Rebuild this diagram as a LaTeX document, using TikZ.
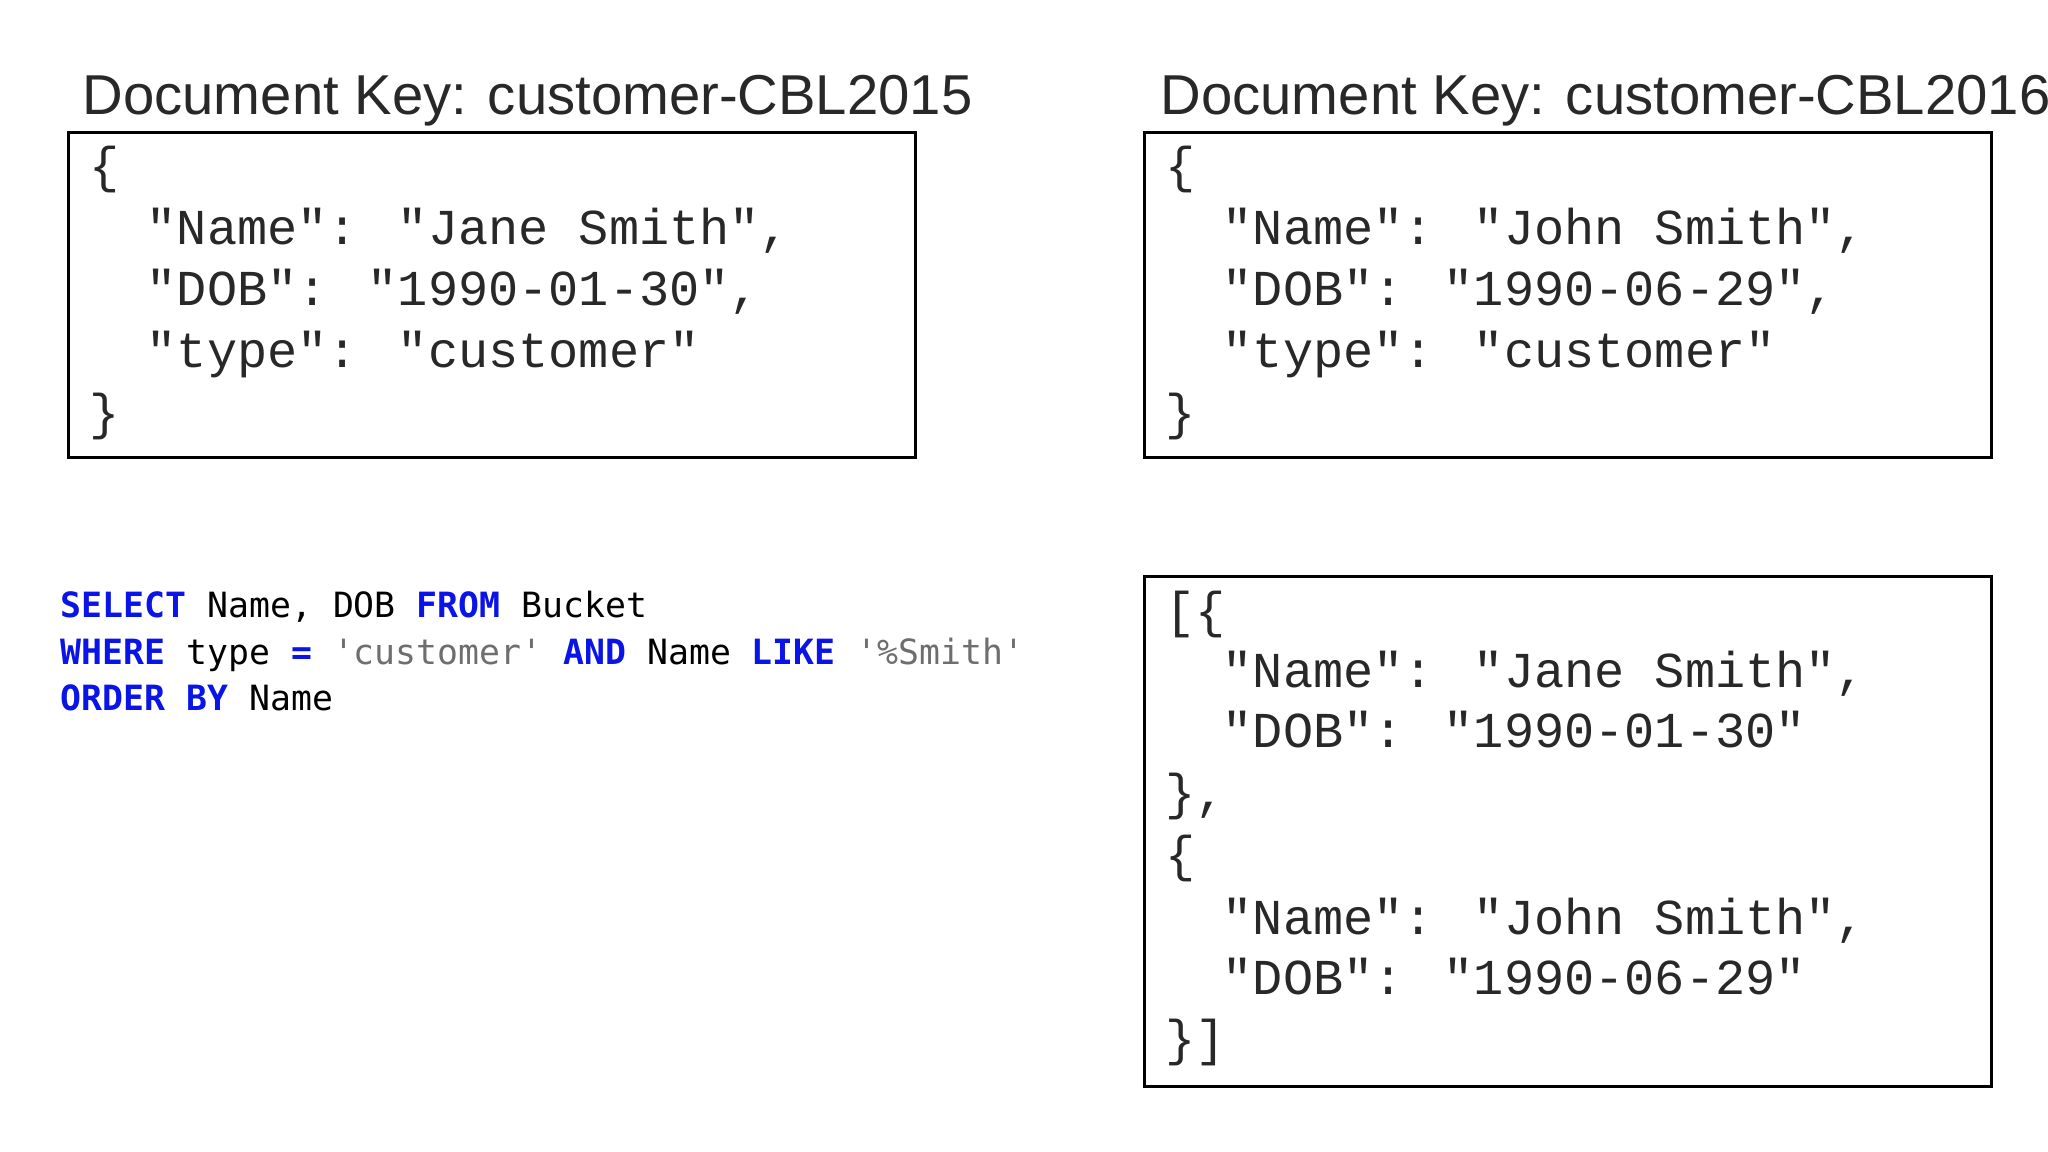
\documentclass[tikz,border=0pt]{standalone}
\usepackage{fontspec}
\setmainfont{Liberation Sans}
\newfontfamily\codefont{Liberation Mono}
\newfontfamily\sqlfont{DejaVu Sans Mono}
\usetikzlibrary{positioning}
\definecolor{kwblue}{RGB}{10,20,230}
\definecolor{strgray}{RGB}{110,110,110}
\definecolor{titlegray}{RGB}{40,40,40}
\newcommand{\kw}[1]{\textbf{\color{kwblue}#1}}
\newcommand{\str}[1]{{\color{strgray}#1}}
\begin{document}
\begin{tikzpicture}[x=1cm,y=-1cm]
  \tikzset{docbox/.style={draw, line width=0.8pt, inner sep=0pt, anchor=north west},
           title/.style={anchor=base west, inner sep=0pt, text=titlegray, font=\fontsize{16}{19}\selectfont},
           codeline/.style={anchor=base west, inner sep=0pt, text=titlegray, font=\codefont\fontsize{14.3}{17}\selectfont},
           sqlline/.style={anchor=base west, inner sep=0pt, font=\sqlfont\fontsize{9.9}{13}\selectfont}}
  \useasboundingbox (0,0) rectangle (20.48,11.52);
  \clip (0,0) rectangle (20.48,11.52);
%% Titles
  \node[title] (t1) at (0.82,1.15) {Document Key: customer-CBL2015};
  \node[title] (t2) at (11.60,1.15) {Document Key: customer-CBL2016};
%% Boxes
  \node[docbox, minimum width=8.47cm, minimum height=3.25cm] (b1) at (0.67,1.31) {};
  \node[docbox, minimum width=8.47cm, minimum height=3.25cm] (b2) at (11.43,1.31) {};
  \node[docbox, minimum width=8.47cm, minimum height=5.10cm] (b3) at (11.43,5.75) {};
%% Document 1
  \node[codeline] (a0) at (0.89,1.83) {\{};
  \node[codeline] (a1) at (1.46,2.45) {"Name": "Jane Smith",};
  \node[codeline] (a2) at (1.46,3.06) {"DOB": "1990-01-30",};
  \node[codeline] (a3) at (1.46,3.68) {"type": "customer"};
  \node[codeline] (a4) at (0.89,4.30) {\}};
%% Document 2
  \node[codeline] (c0) at (11.65,1.83) {\{};
  \node[codeline] (c1) at (12.22,2.45) {"Name": "John Smith",};
  \node[codeline] (c2) at (12.22,3.06) {"DOB": "1990-06-29",};
  \node[codeline] (c3) at (12.22,3.68) {"type": "customer"};
  \node[codeline] (c4) at (11.65,4.30) {\}};
%% Result
  \node[codeline] (r0) at (11.65,6.27) {[\{};
  \node[codeline] (r1) at (12.22,6.88) {"Name": "Jane Smith",};
  \node[codeline] (r2) at (12.22,7.48) {"DOB": "1990-01-30"};
  \node[codeline] (r3) at (11.65,8.10) {\},};
  \node[codeline] (r4) at (11.65,8.71) {\{};
  \node[codeline] (r5) at (12.22,9.34) {"Name": "John Smith",};
  \node[codeline] (r6) at (12.22,9.94) {"DOB": "1990-06-29"};
  \node[codeline] (r7) at (11.65,10.55) {\}]};
%% Query
  \node[sqlline] (q1) at (0.60,6.18) {\kw{SELECT} Name, DOB \kw{FROM} Bucket};
  \node[sqlline] (q2) at (0.60,6.64) {\kw{WHERE} type \kw{=} \str{'customer'} \kw{AND} Name \kw{LIKE} \str{'\%Smith'}};
  \node[sqlline] (q3) at (0.60,7.10) {\kw{ORDER BY} Name};
\end{tikzpicture}
\end{document}
